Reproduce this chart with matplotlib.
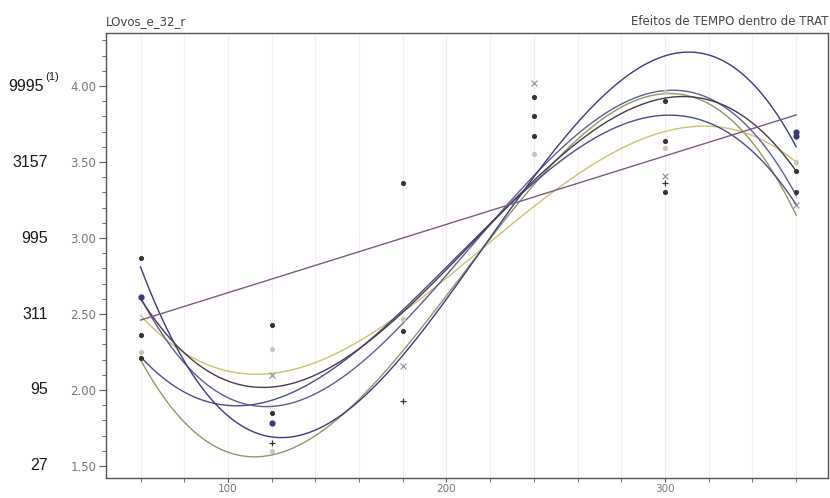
import numpy as np
import matplotlib
matplotlib.use("Agg")
import matplotlib.pyplot as plt
from matplotlib.ticker import MultipleLocator

# tempos de avaliação
tempos = [60, 120, 180, 240, 300, 360]

# curvas ajustadas (valores lidos em cada tempo)
curva_azul = [2.81, 1.69, 2.23, 3.40, 4.20, 3.60]
curva_amarela = [2.49, 2.11, 2.51, 3.21, 3.70, 3.50]
curva_oliva = [2.20, 1.57, 2.26, 3.35, 3.95, 3.15]
curva_marrom = [2.60, 2.02, 2.51, 3.38, 3.92, 3.44]
curva_ardosia = [2.61, 1.89, 2.44, 3.41, 3.97, 3.28]
curva_cinza = [2.22, 1.93, 2.53, 3.36, 3.81, 3.22]
reta_x = [60, 360]
reta_y = [2.46, 3.81]

# pontos observados
pts_escuro_x = [60, 60, 60, 120, 120, 180, 180, 240, 240, 240, 300, 300, 300, 360, 360]
pts_escuro_y = [2.87, 2.36, 2.21, 2.43, 1.85, 3.36, 2.39, 3.93, 3.80, 3.67, 3.90, 3.64, 3.30, 3.44, 3.30]
pts_azul_x = [60, 120, 360, 360]
pts_azul_y = [2.61, 1.78, 3.70, 3.67]
pts_claro_x = [60, 120, 180, 240, 300, 360, 120, 300]
pts_claro_y = [2.25, 2.27, 2.47, 3.55, 3.59, 3.50, 1.60, 3.96]
pts_xis_x = [120, 180, 240, 300, 360]
pts_xis_y = [2.10, 2.16, 4.02, 3.41, 3.22]
pts_mais_x = [120, 180, 300]
pts_mais_y = [1.65, 1.93, 3.36]

# escala original (rótulos à esquerda)
ticks_y = [4.00, 3.50, 3.00, 2.50, 2.00, 1.50]
rotulos_orig = ['9995', '3157', '995', '311', '95', '27']

fig = plt.figure(figsize=(8.3, 4.98), dpi=100)
ax = fig.add_axes([0.1277, 0.0402, 0.870, 0.8935])

ax.set_xlim(44.2, 374.6)
ax.set_ylim(1.421, 4.349)

# grade vertical bem clara
for gx in np.arange(60, 371, 20):
    ax.axvline(gx, color='#f0f0f0', linewidth=0.8, zorder=0)

xx = np.linspace(60, 360, 300)
curvas = [
    (curva_oliva, '#8c9a64'),
    (curva_amarela, '#cdc270'),
    (curva_cinza, '#4c4c8c'),
    (curva_ardosia, '#5e5e94'),
    (curva_marrom, '#4a3a46'),
    (curva_azul, '#3a3a80'),
]
for vals, cor in curvas:
    coef = np.polyfit(tempos, vals, 3)
    ax.plot(xx, np.polyval(coef, xx), color=cor, linewidth=1.0, zorder=2)

ax.plot(reta_x, reta_y, color='#7a5a80', linewidth=1.0, zorder=2)

ax.scatter(pts_escuro_x, pts_escuro_y, s=7, color='#333333', zorder=3)
ax.scatter(pts_azul_x, pts_azul_y, s=12, color='#3a3a78', zorder=3)
ax.scatter(pts_claro_x, pts_claro_y, s=7, color='#c8c8b0', zorder=3)
ax.scatter(pts_xis_x, pts_xis_y, s=18, marker='x', color='#8a8a9a', linewidths=0.8, zorder=3)
ax.scatter(pts_mais_x, pts_mais_y, s=18, marker='+', color='#333333', linewidths=0.9, zorder=3)

ax.xaxis.set_major_locator(MultipleLocator(100))
ax.xaxis.set_minor_locator(MultipleLocator(20))
ax.yaxis.set_minor_locator(MultipleLocator(0.1))
ax.set_yticks(ticks_y)
ax.set_yticklabels([f'{v:.2f}' for v in ticks_y])

ax.tick_params(axis='y', which='major', length=5, width=0.8, colors='#555555',
               labelsize=8.5, labelcolor='#777777', pad=2)
ax.tick_params(axis='y', which='minor', length=3, width=0.6, colors='#555555')
ax.tick_params(axis='x', which='major', length=3, width=0.8, colors='#555555',
               labelsize=7.5, labelcolor='#777777', pad=1.5)
ax.tick_params(axis='x', which='minor', length=3, width=0.6, colors='#555555')
for sp in ax.spines.values():
    sp.set_color('#555555')
    sp.set_linewidth(1.0)

# rótulos na escala original
ytr = ax.get_yaxis_transform()
for i, (v, txt) in enumerate(zip(ticks_y, rotulos_orig)):
    xpos = -0.0859 if i == 0 else -0.0803
    ax.text(xpos, v, txt, transform=ytr, ha='right', va='center',
            fontsize=11.5, fontfamily='Liberation Sans', color='#1a1a1a')
ax.text(-0.0845, ticks_y[0] + 0.025, '(1)', transform=ytr, ha='left', va='bottom',
        fontsize=8, fontfamily='Liberation Sans', color='#1a1a1a')

ax.text(0.0, 1.012, 'LOvos_e_32_r', transform=ax.transAxes, ha='left', va='bottom',
        fontsize=8.5, color='#444444')
ax.text(1.0, 1.012, 'Efeitos de TEMPO dentro de TRAT', transform=ax.transAxes, ha='right',
        va='bottom', fontsize=8.5, color='#444444')

fig.savefig('out.png', dpi=100, facecolor='white')
